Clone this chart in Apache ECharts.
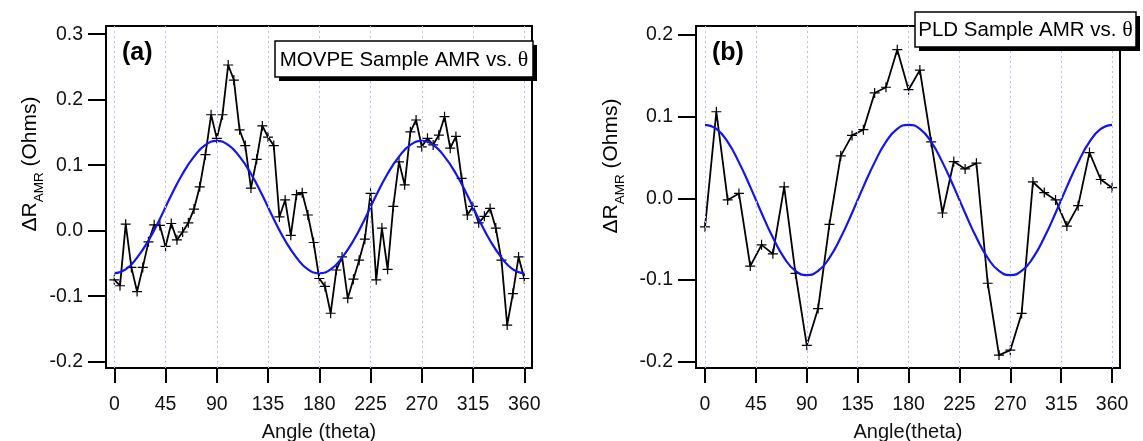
<!DOCTYPE html>
<html>
<head>
<meta charset="utf-8">
<script src="https://cdn.jsdelivr.net/npm/echarts@6/dist/echarts.min.js"></script>
<style>html,body{margin:0;padding:0;background:#fff}#c{width:1143px;height:441px}</style>
</head>
<body>
<div id="c"></div>
<script>
// ---- data ----
const movpeAngles = [0,5,10,15,20,25,30,35,40,45,50,55,60,65,70,75,80,85,90,95,100,105,110,115,120,125,130,135,140,145,150,155,160,165,170,175,180,185,190,195,200,205,210,215,220,225,230,235,240,245,250,255,260,265,270,275,280,285,290,295,300,305,310,315,320,325,330,335,340,345,350,355,360];
const movpeAMR = [-0.075,-0.084,0.010,-0.056,-0.093,-0.056,-0.017,0.009,0.008,-0.024,0.011,-0.014,-0.002,0.012,0.033,0.067,0.116,0.177,0.141,0.177,0.253,0.230,0.154,0.130,0.065,0.109,0.160,0.143,0.130,0.021,0.047,-0.007,0.055,0.058,0.024,-0.018,-0.073,-0.085,-0.126,-0.060,-0.040,-0.103,-0.074,-0.045,-0.013,0.057,-0.075,0.004,-0.059,0.037,0.105,0.070,0.151,0.169,0.128,0.141,0.131,0.146,0.174,0.126,0.144,0.080,0.024,0.037,0.012,0.022,0.034,0.004,-0.045,-0.144,-0.096,-0.040,-0.073];
const fitAngles = [0,10,20,30,40,50,60,70,80,90,100,110,120,130,140,150,160,170,180,190,200,210,220,230,240,250,260,270,280,290,300,310,320,330,340,350,360];
const movpeFit = [-0.065,-0.059,-0.041,-0.015,0.018,0.054,0.087,0.113,0.131,0.137,0.131,0.113,0.087,0.054,0.018,-0.015,-0.041,-0.059,-0.065,-0.059,-0.041,-0.015,0.018,0.054,0.087,0.113,0.131,0.137,0.131,0.113,0.087,0.054,0.018,-0.015,-0.041,-0.059,-0.065];
const pldAngles = [0,10,20,30,40,50,60,70,80,90,100,110,120,130,140,150,160,170,180,190,200,210,220,230,240,250,260,270,280,290,300,310,320,330,340,350,360];
const pldAMR = [-0.035,0.106,-0.002,0.006,-0.083,-0.057,-0.068,0.014,-0.092,-0.180,-0.135,-0.032,0.052,0.077,0.084,0.129,0.136,0.182,0.133,0.157,0.069,-0.018,0.045,0.036,0.043,-0.104,-0.192,-0.186,-0.141,0.020,0.007,-0.002,-0.034,-0.009,0.056,0.023,0.013];
const pldFit = [0.090,0.085,0.069,0.044,0.014,-0.018,-0.048,-0.073,-0.089,-0.094,-0.089,-0.073,-0.048,-0.018,0.014,0.044,0.069,0.085,0.090,0.085,0.069,0.044,0.014,-0.018,-0.048,-0.073,-0.089,-0.094,-0.089,-0.073,-0.048,-0.018,0.014,0.044,0.069,0.085,0.090];
const xTicks = [0,45,90,135,180,225,270,315,360];
const yTicksA = [-0.2,-0.1,0.0,0.1,0.2,0.3];
const yTicksB = [-0.2,-0.1,0.0,0.1,0.2];
const xTitleA = 'Angle (theta)';
const xTitleB = 'Angle(theta)';
const legendA = 'MOVPE Sample AMR vs. ';
const legendB = 'PLD Sample AMR vs. ';
const panelA = '(a)';
const panelB = '(b)';

// ---- chart ----
const FONT = '"Liberation Sans", Arial, sans-serif';
const pairs = (xs, ys) => xs.map((x, i) => [x, ys[i]]);
const plus = 'path://M0,4.4H10V5.6H0Z M4.4,0H5.6V10H4.4Z';

function xAxis(gi, min, max, title) {
  return {
    type: 'value', gridIndex: gi, min: min, max: max,
    name: title, nameLocation: 'middle', nameGap: 54,
    nameTextStyle: { fontFamily: FONT, fontSize: 20, color: '#111' },
    axisLine: { show: true, onZero: false, lineStyle: { color: '#000', width: 2 } },
    axisTick: { show: true, inside: false, length: 15, customValues: xTicks, lineStyle: { color: '#000', width: 2 } },
    axisLabel: { customValues: xTicks, fontFamily: FONT, fontSize: 19.5, color: '#111', margin: 27 },
    splitLine: { show: false }
  };
}
function yAxis(gi, min, max, ticks) {
  return {
    type: 'value', gridIndex: gi, min: min, max: max,
    axisLine: { show: true, onZero: false, lineStyle: { color: '#000', width: 2 } },
    axisTick: { show: true, inside: false, length: 18, customValues: ticks, lineStyle: { color: '#000', width: 2 } },
    axisLabel: { customValues: ticks, fontFamily: FONT, fontSize: 19.5, color: '#111', margin: 23,
      formatter: v => Number(v).toFixed(1) },
    splitLine: { show: false }
  };
}
function gridSeries(idx) {
  return {
    type: 'line', xAxisIndex: idx, yAxisIndex: idx, data: [], z: 1, silent: true,
    markLine: {
      silent: true, symbol: ['none', 'none'], label: { show: false },
      lineStyle: { type: [2, 3], color: '#b8bdf4', width: 1 },
      data: xTicks.map(v => ({ xAxis: v })), animation: false
    }
  };
}
function dataSeries(idx, xs, ys) {
  return {
    type: 'line', xAxisIndex: idx, yAxisIndex: idx, data: pairs(xs, ys), z: 3,
    symbol: plus, symbolSize: 10, showSymbol: true,
    lineStyle: { color: '#000', width: 1.8 }, itemStyle: { color: '#000' }
  };
}
function fitSeries(idx, xs, ys) {
  return {
    type: 'line', xAxisIndex: idx, yAxisIndex: idx, data: pairs(xs, ys), z: 4,
    smooth: 0.5, symbol: 'none', lineStyle: { color: '#1414f0', width: 2.2 }
  };
}
const yTitleRich = {
  d: { fontFamily: FONT, fontSize: 21, color: '#111', lineHeight: 26, verticalAlign: 'top' },
  s: { fontFamily: FONT, fontSize: 13.5, color: '#111', lineHeight: 15, verticalAlign: 'bottom' }
};
function yTitle(x, y) {
  return { type: 'text', x: x, y: y, rotation: Math.PI / 2, z: 100,
    style: { text: '{d|ΔR}{s|AMR}{d| (Ohms)}', rich: yTitleRich, align: 'center', verticalAlign: 'middle' } };
}
function legendBox(x, y, w, h, label) {
  return [
    { type: 'rect', z: 100, shape: { x: x + 4, y: y + 4, width: w, height: h }, style: { fill: '#000' } },
    { type: 'rect', z: 101, shape: { x: x, y: y, width: w, height: h }, style: { fill: '#fff', stroke: '#000', lineWidth: 1.5 } },
    { type: 'text', z: 102, x: x + w / 2, y: y + h / 2 + 1,
      style: { text: '{t|' + label + '}{g|θ}', align: 'center', verticalAlign: 'middle',
        rich: { t: { fontFamily: FONT, fontSize: 20.5, color: '#111' },
                g: { fontFamily: '"Liberation Serif", "DejaVu Serif", serif', fontSize: 22, color: '#111' } } } }
  ];
}

const chart = echarts.init(document.getElementById('c'), null, { renderer: 'canvas' });
chart.setOption({
  animation: false,
  backgroundColor: '#fff',
  grid: [
    { left: 106, top: 26, width: 426, height: 342, containLabel: false, outerBoundsMode: 'none', show: true, borderColor: '#000', borderWidth: 2, backgroundColor: 'transparent' },
    { left: 696, top: 26, width: 424, height: 342, containLabel: false, outerBoundsMode: 'none', show: true, borderColor: '#000', borderWidth: 2, backgroundColor: 'transparent' }
  ],
  xAxis: [ xAxis(0, -7.3, 366.8, xTitleA), xAxis(1, -8.0, 367.0, xTitleB) ],
  yAxis: [ yAxis(0, -0.2096, 0.3125, yTicksA), yAxis(1, -0.2078, 0.2110, yTicksB) ],
  series: [
    gridSeries(0), dataSeries(0, movpeAngles, movpeAMR), fitSeries(0, fitAngles, movpeFit),
    gridSeries(1), dataSeries(1, pldAngles, pldAMR), fitSeries(1, fitAngles, pldFit)
  ],
  graphic: [
    { type: 'text', x: 122, y: 53, z: 100, style: { text: panelA, font: 'bold 25px ' + FONT, fill: '#000', verticalAlign: 'middle' } },
    { type: 'text', x: 712, y: 53, z: 100, style: { text: panelB, font: 'bold 25px ' + FONT, fill: '#000', verticalAlign: 'middle' } },
    yTitle(33, 164),
    yTitle(614, 166),
    ...legendBox(275, 41, 258, 36, legendA),
    ...legendBox(915, 12, 221, 35, legendB)
  ]
});
</script>
</body>
</html>
